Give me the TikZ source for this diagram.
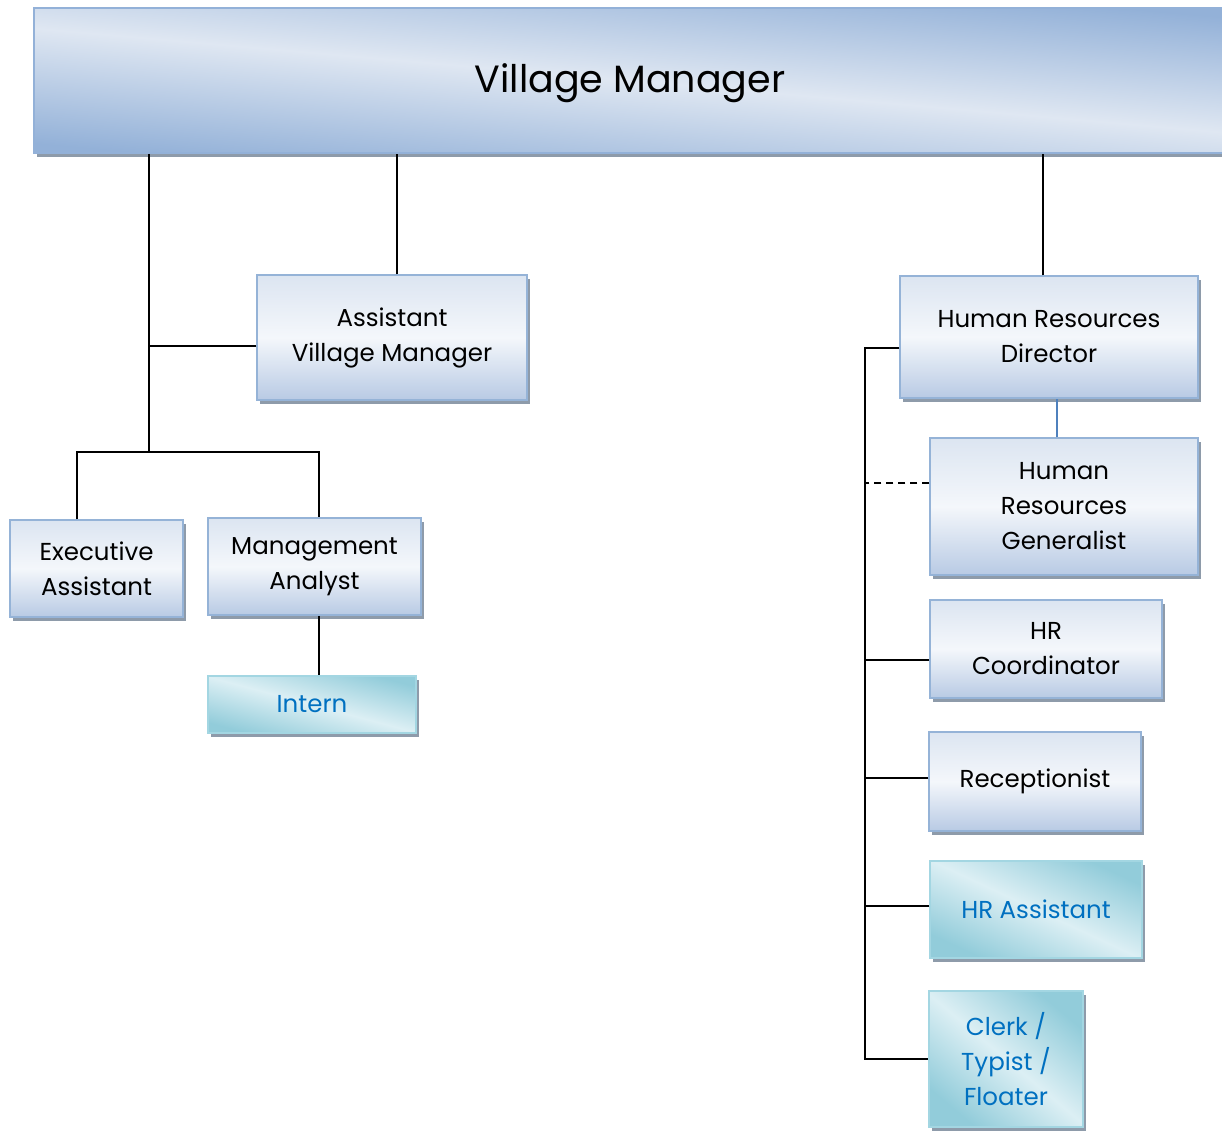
\documentclass[tikz,border=0pt]{standalone}
\usepackage{fontspec}
\setmainfont{Poppins}
\usetikzlibrary{shadows,calc}
\definecolor{bT}{HTML}{DCE5F1}
\definecolor{bM}{HTML}{F4F7FB}
\definecolor{bB}{HTML}{B8CAE4}
\definecolor{bBorder}{HTML}{95B3D7}
\definecolor{vDark}{HTML}{93B1D8}
\definecolor{vLight}{HTML}{DFE7F2}
\definecolor{shadowc}{HTML}{8E9BAA}
\definecolor{cLight}{HTML}{DCEFF4}
\definecolor{cDark}{HTML}{92CCDA}
\definecolor{cBorder}{HTML}{A3D6E2}
\definecolor{cText}{HTML}{0070C0}
\definecolor{hrline}{HTML}{4F81BD}
\begin{document}
\begin{tikzpicture}[x=1pt,y=-1pt,
  shadowed/.style={drop shadow={shadow xshift=3pt,shadow yshift=-4pt,fill=shadowc,opacity=1}},
  bluebox/.style={shadowed,draw=bBorder,line width=1.5pt,top color=bT,bottom color=bB,middle color=bM,
     align=center,inner sep=0pt,font=\fontsize{24.5}{35}\selectfont},
  cyanbox/.style={shadowed,draw=cBorder,line width=1.5pt,top color=cDark,bottom color=cDark,middle color=cLight,shading angle=#1,
     align=center,inner sep=0pt,text=cText,font=\fontsize{24.5}{35}\selectfont},
  topbox/.style={shadowed,draw=vDark,line width=1.5pt,top color=vDark,bottom color=vDark,middle color=vLight,shading angle=-5,
     align=center,inner sep=0pt},
  conn/.style={line width=1.6pt,black},
  sz/.style 2 args={minimum width=#1pt,minimum height=#2pt}]
\useasboundingbox (0,0) rectangle (1222,1132);

\node[topbox,sz={1196}{145}] (VM) at (632,80.5) {};
\node (VMt) at (630,83) {\fontsize{38}{44}\selectfont Village Manager};

\node[bluebox,sz={270}{125}] (AVM) at (392,337.5) {Assistant\\Village Manager};
\node[bluebox,sz={173}{97}] (EA) at (96.5,568.5) {Executive\\Assistant};
\node[bluebox,sz={213}{97}] (MA) at (314.5,566.5) {Management\\Analyst};
\node[cyanbox=-15,sz={208}{57}] (IN) at (312,704.5) {Intern};

\node[bluebox,sz={298}{122}] (HRD) at (1049,337) {Human Resources\\Director};
\node[bluebox,sz={268}{137}] (HRG) at (1064,506.5) {Human\\Resources\\Generalist};
\node[bluebox,sz={232}{98}] (HRC) at (1046,649) {HR\\Coordinator};
\node[bluebox,sz={212}{99}] (REC) at (1035,781.5) {Receptionist};
\node[cyanbox=-25,sz={212}{97}] (HRA) at (1036,909.5) {HR Assistant};
\node[cyanbox=-40,sz={154}{136}] (CL) at (1006,1059) {Clerk /\\Typist /\\Floater};

\coordinate (j1) at (149,452);
\coordinate (t) at (865,0);

\draw[conn] (VM.south -| j1) -- (j1);
\draw[conn] ([yshift=-8.5pt]AVM.west) -- ([yshift=-8.5pt]AVM.west -| j1);
\draw[conn] ([xshift=5pt]AVM.north) -- ([xshift=5pt]AVM.north |- VM.south);
\draw[conn] ([xshift=-19.5pt]EA.north) -- ([xshift=-19.5pt]EA.north |- j1) -- ([xshift=4.5pt]MA.north |- j1) -- ([xshift=4.5pt]MA.north);
\draw[conn] ([xshift=4.5pt]MA.south) -- ([xshift=4.5pt]MA.south |- IN.north);

\draw[conn] ([xshift=-6pt]HRD.north) -- ([xshift=-6pt]HRD.north |- VM.south);
\draw[line width=1.2pt,hrline] ([xshift=-7pt]HRG.north) -- ([xshift=-7pt]HRG.north |- HRD.south);

\draw[conn] ([yshift=-11pt]HRD.west) -- ([yshift=-11pt]HRD.west -| t) -- (CL.west -| t) -- (CL.west);
\draw[conn,dash pattern=on 7pt off 5pt] ([yshift=23.5pt]HRG.west) -- ([yshift=23.5pt]HRG.west -| t);
\draw[conn] ([yshift=-11pt]HRC.west) -- ([yshift=-11pt]HRC.west -| t);
\draw[conn] ([yshift=3.5pt]REC.west) -- ([yshift=3.5pt]REC.west -| t);
\draw[conn] ([yshift=3.5pt]HRA.west) -- ([yshift=3.5pt]HRA.west -| t);
\end{tikzpicture}
\end{document}
